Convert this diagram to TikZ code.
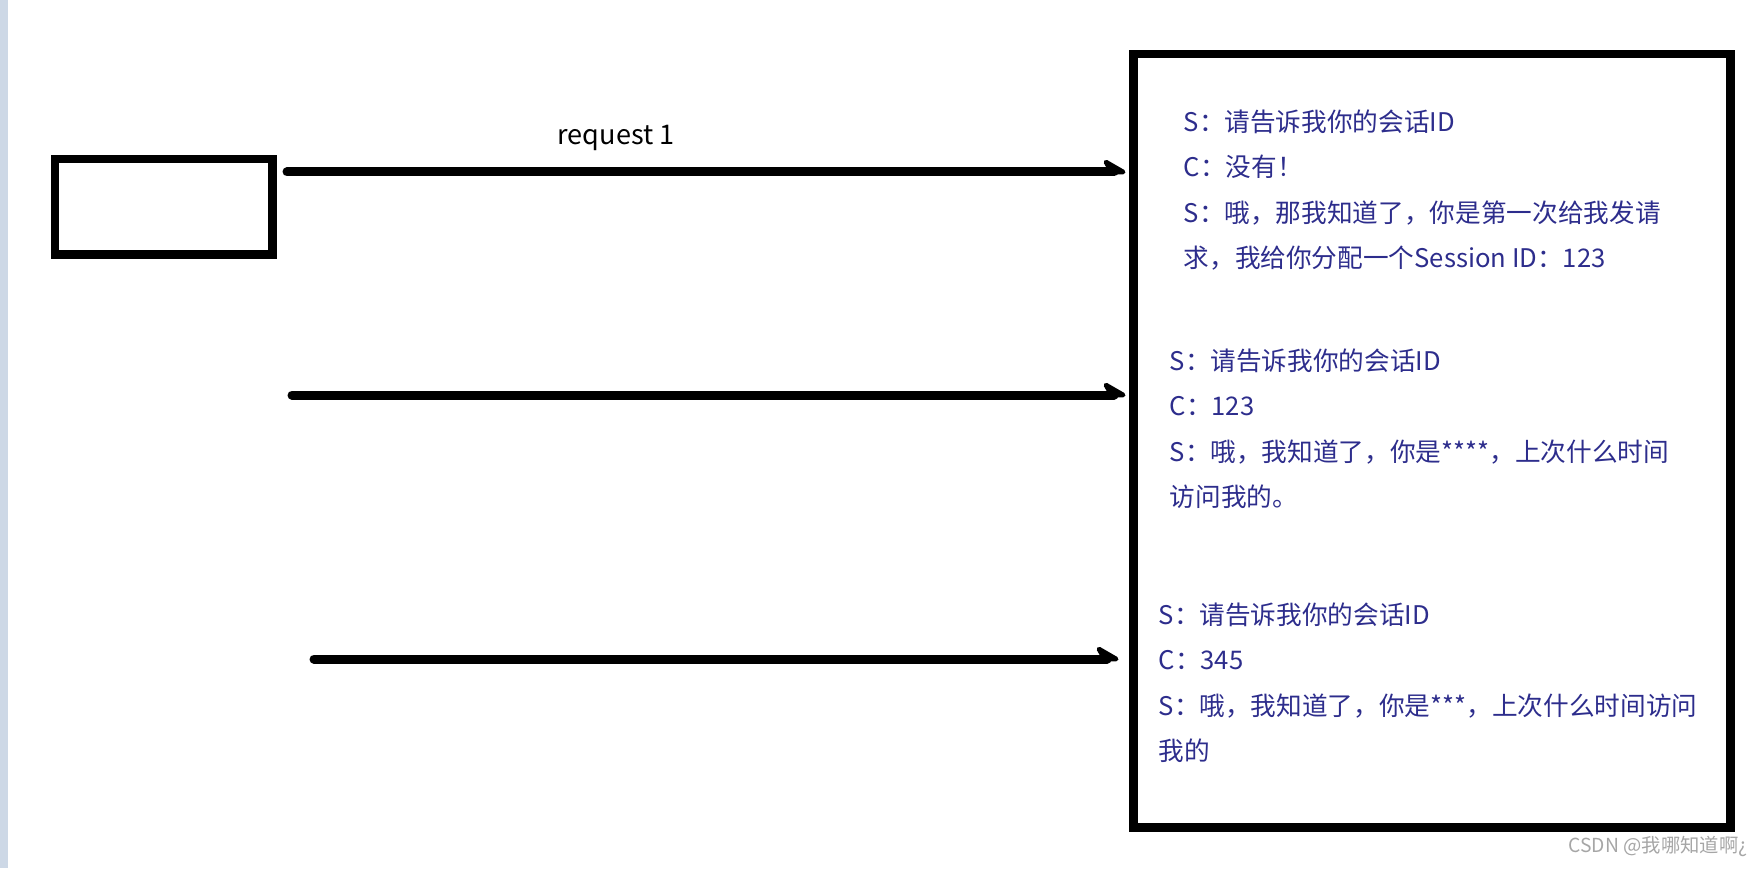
\documentclass[tikz,border=0pt]{standalone}
\usepackage{fontspec}
\setmainfont{Noto Sans CJK SC}
\usepackage{xcolor}
\usetikzlibrary{arrows.meta}

\definecolor{talkblue}{RGB}{45,45,140}
\definecolor{stripblue}{RGB}{205,216,230}

\begin{document}
\begin{tikzpicture}[
	box/.style={draw, line width=0.09cm, inner sep=0pt},
	req/.style={line width=0.09cm, line cap=round, -{Stealth[left, round, length=0.28cm, width=0.32cm]}},
	talk/.style={anchor=north west, inner sep=0pt, align=left, text=talkblue, font=\fontsize{7.3}{12.9}\selectfont}
	]
	
	\useasboundingbox (0,0) rectangle (17.63,8.68);
	\fill[stripblue] (0,0) rectangle (0.08,8.68);
	
	\node[box, minimum width=2.17cm, minimum height=0.95cm] (client) at (1.635,6.615) {};
	\node[box, minimum width=5.97cm, minimum height=7.73cm] (server) at (14.315,4.275) {};
	
	\foreach \i/\x/\y/\s in {1/2.87/6.96/0.03, 2/2.92/4.73/0.03, 3/3.14/2.09/0.10}
	{
		\coordinate (start\i) at (\x,\y);
		\draw[req, shorten >=\s cm] (start\i) -- (server.west |- start\i);
	}
	
	\node[font=\fontsize{7.7}{9}\selectfont] (req1) at (6.16,7.30) {request 1};
	
	\node[talk] (talk1) at (11.83,7.59) {S：请告诉我你的会话ID\\C：没有！\\S：哦，那我知道了，你是第一次给我发请\\求，我给你分配一个Session ID：123};
	\node[talk] (talk2) at (11.69,5.20) {S：请告诉我你的会话ID\\C：123\\S：哦，我知道了，你是****，上次什么时间\\访问我的。};
	\node[talk] (talk3) at (11.58,2.66) {S：请告诉我你的会话ID\\C：345\\S：哦，我知道了，你是***，上次什么时间访问\\我的};
	
	\node[anchor=east, text=gray!70, font=\fontsize{5.5}{6}\selectfont] (mark) at (17.60,0.22) {CSDN @我哪知道啊¿};
	
\end{tikzpicture}
\end{document}
